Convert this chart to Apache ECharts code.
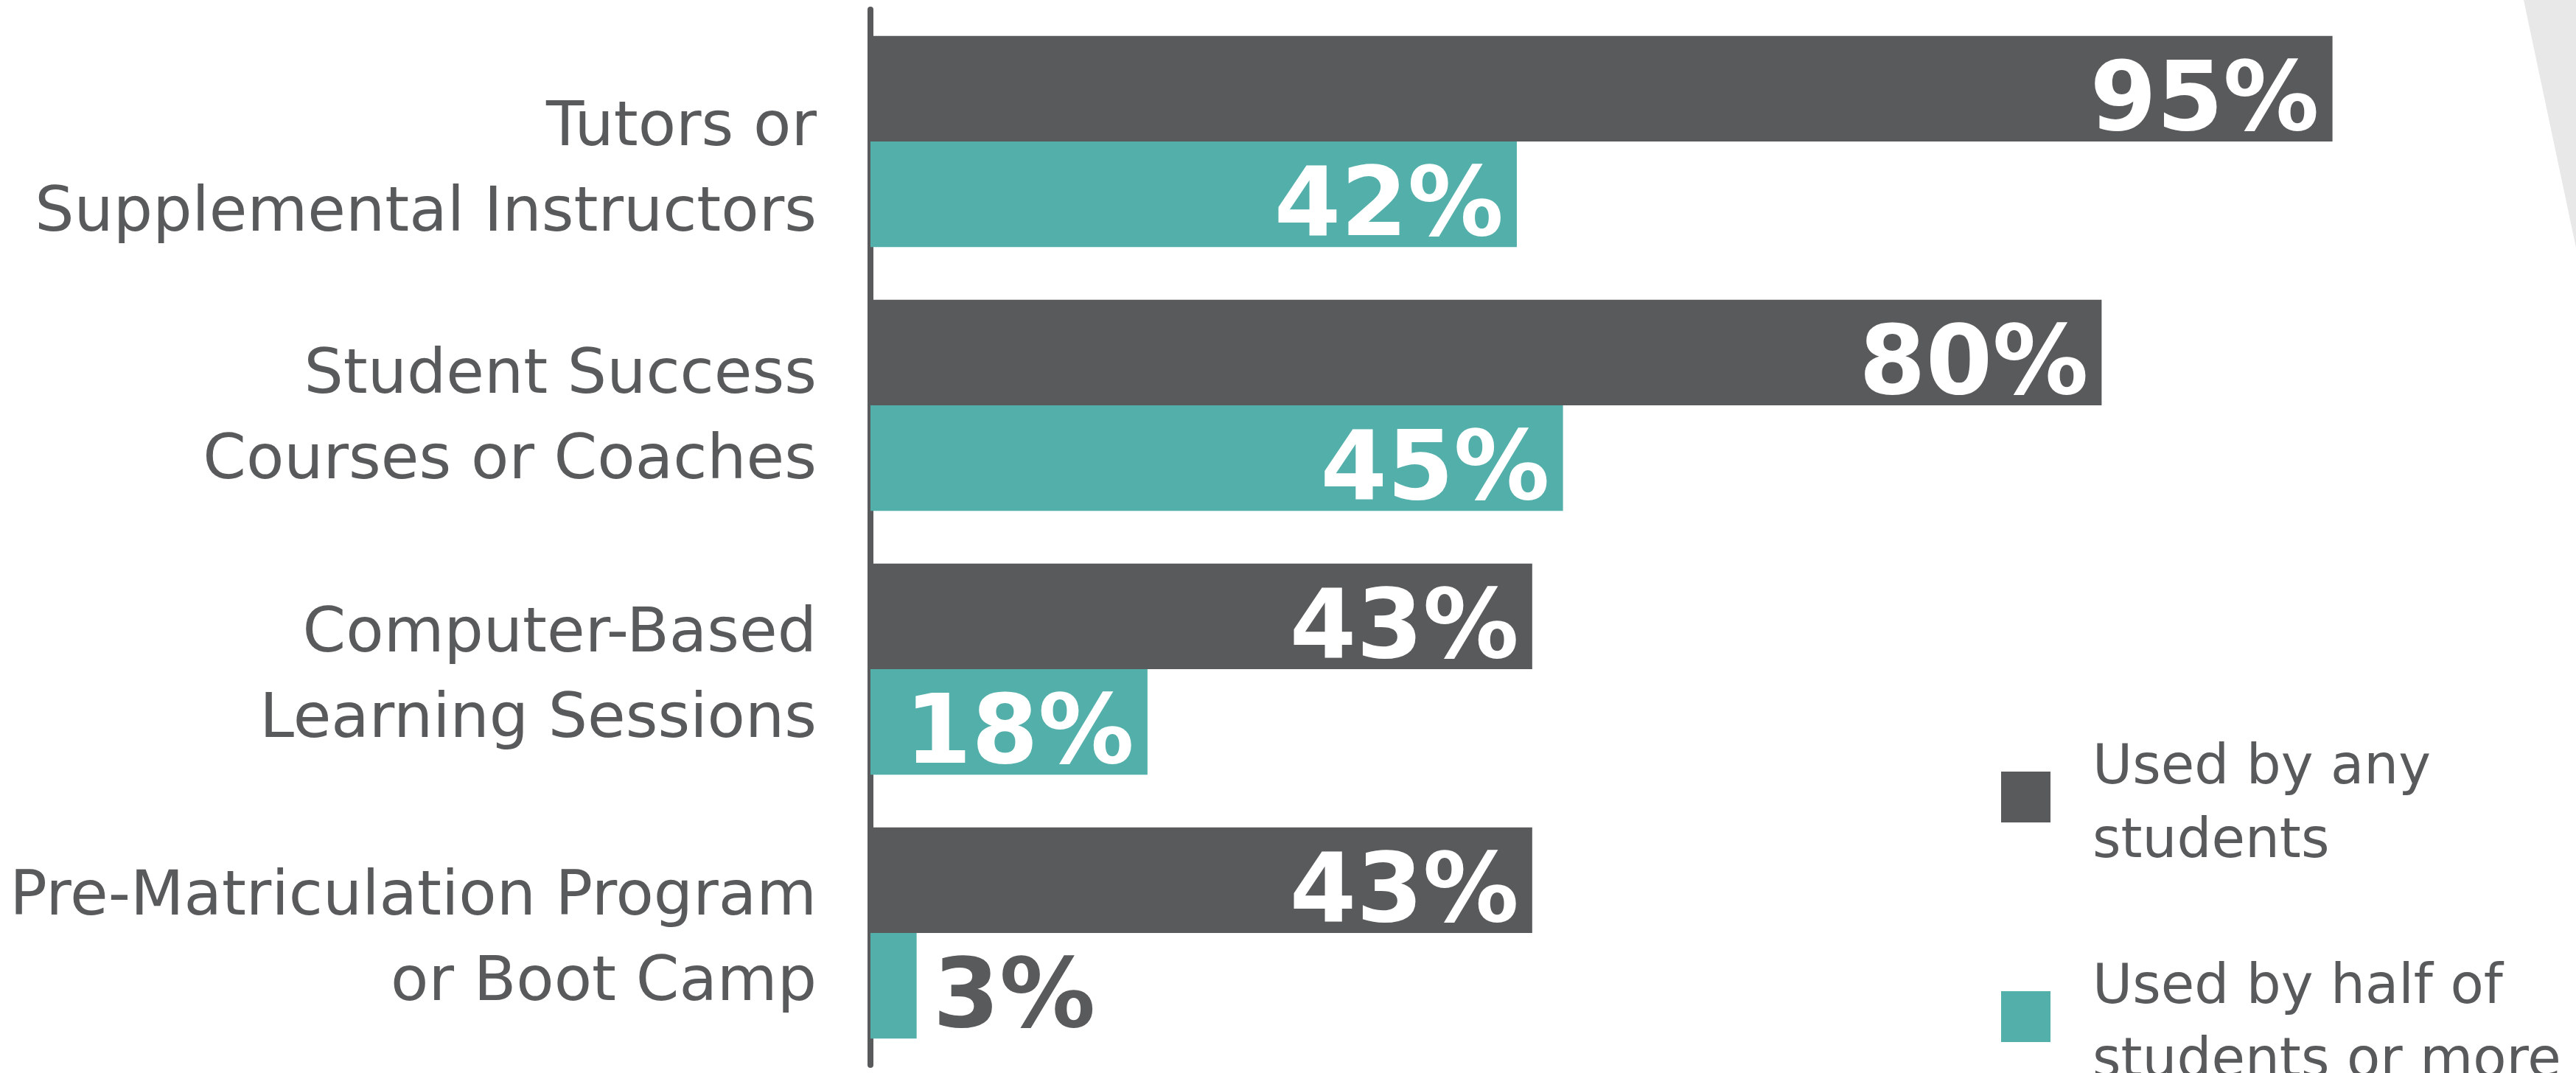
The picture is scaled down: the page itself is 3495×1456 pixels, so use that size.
<!DOCTYPE html>
<html>
<head>
<meta charset="utf-8">
<title>Academic support use</title>
<script src="https://cdn.jsdelivr.net/npm/echarts@6/dist/echarts.min.js"></script>
<style>
  html, body { margin: 0; padding: 0; background: #ffffff; }
  #chart { width: 3495px; height: 1456px; }
</style>
</head>
<body>
<div id="chart"></div>
<script>
// Support types, top to bottom
const categories = [
  'Tutors or\nSupplemental Instructors',
  'Student Success\nCourses or Coaches',
  'Computer-Based\nLearning Sessions',
  'Pre-Matriculation Program\nor Boot Camp'
];
const seriesNames = ['Used by any\nstudents', 'Used by half of\nstudents or more'];
// Percent of colleges
const usedByAny = [95, 80, 43, 43];
const usedByHalf = [42, 45, 18, 3];

const DARK = '#595a5c';
const TEAL = '#52afaa';
const FONT = '"DejaVu Sans", Verdana, sans-serif';

// Downward nudge (px) for each category label block
const labelNudge = [41, 19, 12, 11];
const LEGEND_NUDGE = 12;

// A thin spacer line above a multi-line text pushes the lines down
// by half its height while keeping the line spacing intact.
function spacedText(text, gapKey) {
  return '{' + gapKey + '| }\n' + text.split('\n').map(function (line) {
    return '{line|' + line + '}';
  }).join('\n');
}

const categoryRich = {
  line: { fontFamily: FONT, fontSize: 84, lineHeight: 116, color: DARK, align: 'right' }
};
labelNudge.forEach(function (n, i) {
  categoryRich['gap' + i] = { fontSize: 1, lineHeight: n * 2 };
});

function categoryFormatter(value, index) {
  return spacedText(value, 'gap' + index);
}

function legendFormatter(name) {
  return spacedText(name, 'gap');
}

// Short bars get their label outside, in grey
function withLabels(values) {
  return values.map(function (v) {
    if (v >= 10) return v;
    return {
      value: v,
      label: { position: 'right', color: DARK, distance: 22 }
    };
  });
}

const valueLabel = {
  show: true,
  position: 'insideRight',
  distance: 18,
  offset: [0, 22],
  color: '#ffffff',
  fontFamily: FONT,
  fontWeight: 'bold',
  fontSize: 130,
  formatter: '{c}%'
};

function legendBlock(name, top) {
  return {
    orient: 'vertical',
    left: 2710,
    top: top,
    itemWidth: 67,
    itemHeight: 69,
    icon: 'rect',
    selectedMode: false,
    formatter: legendFormatter,
    textStyle: {
      color: DARK,
      fontFamily: FONT,
      fontSize: 74,
      padding: [0, 0, 0, 52],
      rich: {
        gap: { fontSize: 1, lineHeight: LEGEND_NUDGE * 2 },
        line: { color: DARK, fontFamily: FONT, fontSize: 74, lineHeight: 100 }
      }
    },
    data: [name]
  };
}

const chart = echarts.init(document.getElementById('chart'), null, { renderer: 'canvas' });
chart.setOption({
  animation: false,
  backgroundColor: '#ffffff',
  graphic: [{
    type: 'polygon',
    z: -10,
    shape: { points: [[3424, 0], [3495, 0], [3495, 336]] },
    style: { fill: '#e8e8e8' }
  }],
  grid: { left: 1181, right: 226, top: 13, bottom: 11, containLabel: false },
  legend: [
    legendBlock(seriesNames[0], 976),
    legendBlock(seriesNames[1], 1274)
  ],
  xAxis: {
    type: 'value',
    min: 0,
    max: 100,
    show: false,
    splitLine: { show: false }
  },
  yAxis: {
    type: 'category',
    inverse: true,
    data: categories,
    offset: 4,
    axisLine: { show: true, lineStyle: { color: DARK, width: 8 } },
    axisTick: { show: false },
    axisLabel: {
      interval: 0,
      margin: 69,
      color: DARK,
      fontFamily: FONT,
      fontSize: 84,
      align: 'right',
      formatter: categoryFormatter,
      rich: categoryRich
    }
  },
  series: [
    {
      name: seriesNames[0],
      type: 'bar',
      data: withLabels(usedByAny),
      itemStyle: { color: DARK },
      barGap: '0%',
      barCategoryGap: '20%',
      label: valueLabel
    },
    {
      name: seriesNames[1],
      type: 'bar',
      data: withLabels(usedByHalf),
      itemStyle: { color: TEAL },
      barGap: '0%',
      barCategoryGap: '20%',
      label: valueLabel
    }
  ]
});
</script>
</body>
</html>
